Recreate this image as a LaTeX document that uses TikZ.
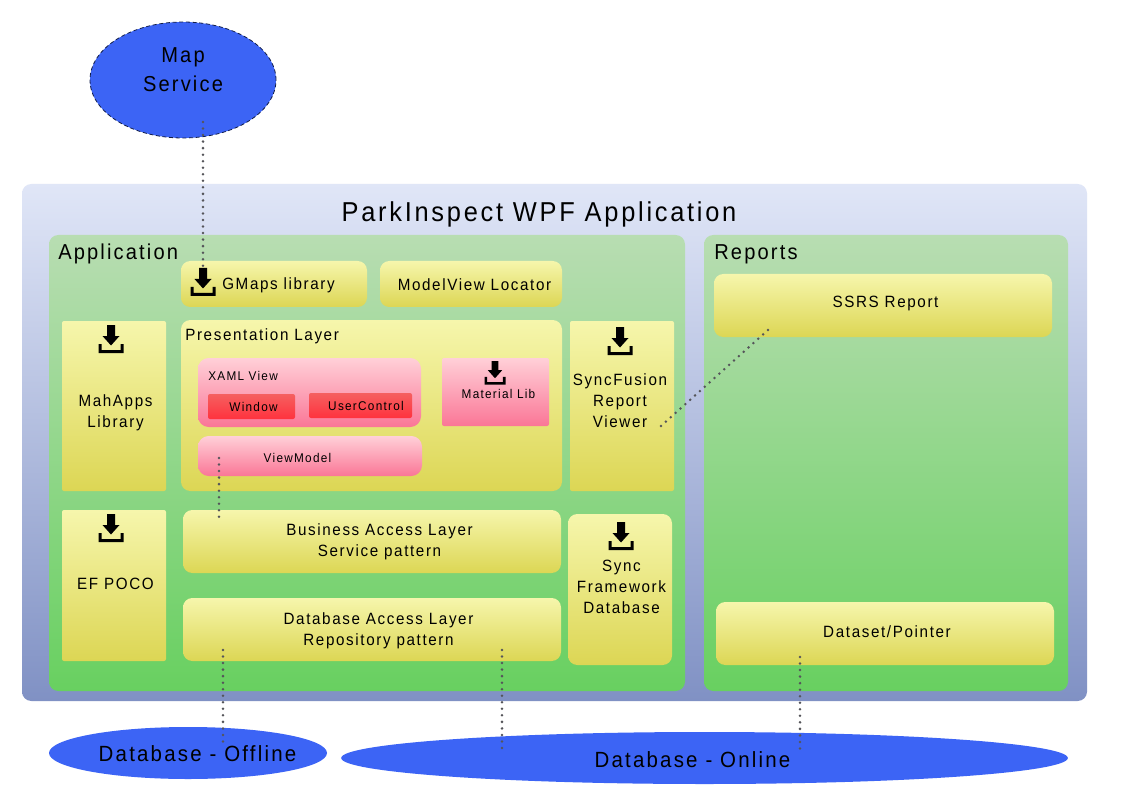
\documentclass[tikz,border=0pt]{standalone}
\usepackage{fontspec}
\setmainfont[LetterSpace=10,FakeStretch=0.93]{Liberation Sans}
\usetikzlibrary{shapes.geometric}
\definecolor{ytop}{RGB}{246,246,172}
\definecolor{ybot}{RGB}{220,214,84}
\definecolor{gtop}{RGB}{184,221,178}
\definecolor{gbot}{RGB}{104,208,96}
\definecolor{ptop}{RGB}{255,208,216}
\definecolor{pbot}{RGB}{250,118,150}
\definecolor{rtop}{RGB}{245,96,96}
\definecolor{rbot}{RGB}{255,50,62}
\definecolor{btop}{RGB}{224,230,247}
\definecolor{bbot}{RGB}{128,145,196}
\definecolor{ell}{RGB}{60,100,245}
\definecolor{dotc}{RGB}{85,85,90}
\tikzset{
  x=0.75pt,y=-0.75pt,
  panel/.style={anchor=north west,inner sep=0pt,outer sep=0pt,text=black,align=center},
  yel/.style={panel,top color=ytop,bottom color=ybot},
  yelr/.style={yel,rounded corners=7pt},
  yels/.style={yel,rounded corners=1.5pt},
  pink/.style={panel,top color=ptop,bottom color=pbot},
  pinkr/.style={pink,rounded corners=8pt},
  pinks/.style={pink,rounded corners=1.5pt},
  redb/.style={panel,top color=rtop,bottom color=rbot,rounded corners=1.5pt},
  grn/.style={panel,top color=gtop,bottom color=gbot,rounded corners=7pt},
  oval/.style={ellipse,inner sep=0pt,outer sep=0pt,fill=ell},
  ovaltext/.style={inner sep=0pt,text=black,align=center,font=\fontsize{16.5pt}{21.75pt}\selectfont},
  mid/.style={font=\fontsize{12.25pt}{15.8pt}\selectfont},
  sml/.style={font=\fontsize{9.5pt}{12pt}\selectfont},
  head/.style={font=\fontsize{16.2pt}{20pt}\selectfont},
  lbl/.style={inner sep=0pt,text=black},
  dotline/.style={draw=dotc,line width=2.1pt,line cap=round,dash pattern=on 0pt off 4.9pt},
}
% box: name, style, x0, y0, x1, y1 (pixel corners)
\newcommand{\bx}[6]{%
  \pgfmathsetmacro{\bw}{(#5-#3)*0.75}\pgfmathsetmacro{\bh}{(#6-#4)*0.75}%
  \node[#2,minimum width=\bw pt,minimum height=\bh pt] (#1) at (#3,#4) {};}
% download icon: centre x, top y, scale
\newcommand{\dl}[3]{%
  \begin{scope}[shift={(#1,#2)},scale=#3]
    \fill[black] (-4,0) -- (4,0) -- (4,11) -- (8.5,11) -- (0,20.5) -- (-8.5,11) -- (-4,11) -- cycle;
    \fill[black] (-12.5,19) -- (-9.5,19) -- (-9.5,25) -- (9.5,25) -- (9.5,19) -- (12.5,19) -- (12.5,28) -- (-12.5,28) -- cycle;
  \end{scope}}
\begin{document}
\begin{tikzpicture}
\useasboundingbox (0,0) rectangle (1130,798);
\fill[white] (0,0) rectangle (1130,798);
% ellipses
\node[oval,draw=black!70!ell,densely dashed,line width=0.6pt,minimum width=139.5pt,minimum height=87pt] (map) at (183,80) {};
\node[ovaltext,font=\fontsize{16.2pt}{21.75pt}\selectfont] (mapt) at (183,70) {Map\\Service};
\node[oval,minimum width=208.5pt,minimum height=39pt] (offline) at (188,753) {};
\node[ovaltext] (offt) at (197.5,754) {Database - Offline};
\node[oval,minimum width=545pt,minimum height=39pt] (online) at (704.5,758) {};
\node[ovaltext] (onlt) at (692.5,760) {Database - Online};
% main panels
\bx{main}{panel,top color=btop,bottom color=bbot,rounded corners=7pt}{22}{184}{1087}{701}
\node[lbl,font=\fontsize{20.5pt}{24pt}\selectfont] (title) at (539,214.5) {ParkInspect WPF Application};
\bx{app}{grn}{49}{235}{685}{691}
\bx{rep}{grn}{704}{235}{1068}{691}
\node[lbl,head,anchor=west] (applbl) at (58,254) {Application};
\node[lbl,head,anchor=west] (replbl) at (714,254) {Reports};
% yellow boxes
\bx{gmaps}{yelr}{181}{261}{367}{307}
\node[lbl,mid,anchor=west] (gmapst) at (222,285) {GMaps library};
\dl{203}{268}{1}
\bx{locator}{yelr}{380}{261}{562}{307}
\node[lbl,mid] (loct) at (474.5,284.5) {ModelView Locator};
\bx{mahapps}{yels}{62}{321}{166}{491}
\dl{111}{325}{1}
\node[lbl,mid,align=center] (mahappst) at (115.5,412.5) {MahApps\\Library};
\bx{pres}{yelr}{181}{320}{562}{491}
\node[lbl,mid,anchor=west] (prest) at (185,336) {Presentation Layer};
\bx{xaml}{pinkr}{198}{358}{421}{427}
\node[lbl,sml,anchor=west] (xamlt) at (208,376) {XAML View};
\bx{win}{redb}{208}{394}{295}{419}
\node[lbl,sml] (wint) at (253.5,407) {Window};
\bx{uc}{redb}{309}{393}{412}{418}
\node[lbl,sml] (uct) at (366,405.5) {UserControl};
\bx{mat}{pinks}{442}{358}{549}{426}
\dl{495}{361}{0.84}
\node[lbl,sml] (matt) at (498.5,394) {Material Lib};
\bx{vm}{pinkr}{198}{436}{422}{476}
\node[lbl,sml] (vmt) at (297.5,458) {ViewModel};
\bx{sf}{yels}{570}{321}{674}{491}
\dl{620}{327}{1}
\node[lbl,mid,align=center] (sft) at (620,401) {SyncFusion\\Report\\Viewer};
\bx{ef}{yels}{62}{510}{166}{661}
\dl{111}{514}{1}
\node[lbl,mid] (eft) at (115.5,584) {EF POCO};
\bx{bal}{yelr}{183}{510}{561}{573}
\node[lbl,mid,align=center] (balt) at (379.5,542) {Business Access Layer\\Service pattern};
\bx{dal}{yelr}{183}{598}{561}{661}
\node[lbl,mid,align=center] (dalt) at (378.5,631) {Database Access Layer\\Repository pattern};
\bx{sync}{yelr}{568}{514}{672}{665}
\dl{621}{522}{1}
\node[lbl,mid,align=center] (synct) at (621.5,587) {Sync\\Framework\\Database};
\bx{ssrs}{yelr}{714}{274}{1052}{337}
\node[lbl,mid] (ssrst) at (885.5,303.5) {SSRS Report};
\bx{data}{yelr}{716}{602}{1054}{665}
\node[lbl,mid] (datat) at (887,632) {Dataset/Pointer};
% connector ends
\coordinate (c1) at (203,122); \coordinate (c2) at (203,268);
\coordinate (c3) at (219,458); \coordinate (c4) at (219,522);
\coordinate (c5) at (223,650); \coordinate (c6) at (223,742);
\coordinate (c7) at (502,650); \coordinate (c8) at (502,749);
\coordinate (c9) at (800,657); \coordinate (c10) at (800,750);
\coordinate (c11) at (768,330); \coordinate (c12) at (661,426);
\draw[dotline] (c1) -- (c2);
\draw[dotline] (c3) -- (c4);
\draw[dotline] (c5) -- (c6);
\draw[dotline] (c7) -- (c8);
\draw[dotline] (c9) -- (c10);
\draw[dotline] (c11) -- (c12);
\end{tikzpicture}
\end{document}
